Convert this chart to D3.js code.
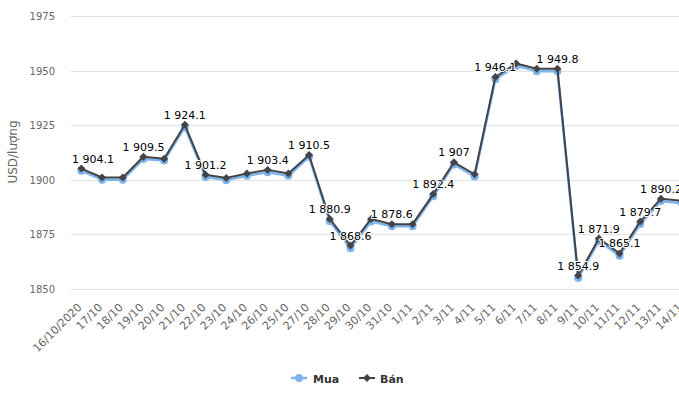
<!DOCTYPE html>
<html>
<head>
<meta charset="utf-8">
<script src="https://cdn.jsdelivr.net/npm/d3@7/dist/d3.min.js"></script>
<style>
  html, body { margin: 0; padding: 0; background: #fff; overflow: hidden; }
  svg { display: block; font-family: "DejaVu Sans", Verdana, sans-serif; }
</style>
</head>
<body>
<div id="chart"></div>
<script>
const categories = ["16/10/2020","17/10","18/10","19/10","20/10","21/10","22/10","23/10","24/10","26/10","25/10","27/10","28/10","29/10","30/10","31/10","1/11","2/11","3/11","4/11","5/11","6/11","7/11","8/11","9/11","10/11","11/11","12/11","13/11","14/11"];
const muaValues = [1904.1,1900.0,1900.0,1909.5,1908.8,1924.1,1901.2,1899.8,1901.8,1903.4,1901.8,1910.5,1880.9,1868.6,1880.8,1878.6,1878.6,1892.4,1907.0,1901.5,1946.1,1952.2,1949.8,1949.8,1854.9,1871.9,1865.1,1879.7,1890.2,1889.2];
const banValues = [1905.1,1901.0,1901.0,1910.5,1909.6,1925.2,1902.3,1900.8,1902.8,1904.5,1902.8,1911.3,1882.0,1869.8,1882.0,1879.6,1879.6,1893.4,1908.0,1902.5,1947.1,1953.3,1950.9,1950.9,1856.0,1873.0,1866.2,1880.8,1891.3,1890.3];
const labelIndices = [0,3,5,6,9,11,12,13,15,17,18,20,23,24,25,26,27,28];
const yTicks = [1850,1875,1900,1925,1950,1975];
const seriesNames = ["Mua","Bán"];
const yTitle = "USD/lượng";

const W = 679, H = 393;
const plotLeft = 71, step = 20.7;
const plotRight = plotLeft + step * categories.length;
const svg = d3.select("#chart").append("svg").attr("width", W).attr("height", H);

const x = d3.scaleBand().domain(categories).range([plotLeft, plotRight]);
const y = d3.scaleLinear().domain([1850, 1975]).range([288.7, 16.2]);
const cx = d => x(d) + x.bandwidth() / 2;

// grid
svg.append("g").selectAll("line").data(yTicks).join("line")
  .attr("x1", plotLeft).attr("x2", plotRight)
  .attr("y1", d => Math.round(y(d)) + 0.5).attr("y2", d => Math.round(y(d)) + 0.5)
  .attr("stroke", "#e3e3e3").attr("stroke-width", 1);

// y axis labels
const yAxis = d3.axisLeft(y).tickValues(yTicks).tickFormat(d3.format("d")).tickSize(0).tickPadding(0);
const gy = svg.append("g").attr("transform", `translate(55,0)`).call(yAxis);
gy.select(".domain").remove();
gy.selectAll("text").attr("fill", "#666").attr("font-size", "10px").attr("font-family", "DejaVu Sans").attr("dy", "0.35em");

// y title
svg.append("text").attr("transform", "translate(17,152) rotate(-90)")
  .attr("text-anchor", "middle").attr("fill", "#666").attr("font-size", "12px").text(yTitle);

// x axis labels
const xAxis = d3.axisBottom(x).tickSize(0).tickPadding(0);
const gx = svg.append("g").attr("transform", `translate(0,289)`).call(xAxis);
gx.select(".domain").remove();
gx.selectAll("text")
  .attr("fill", "#666").attr("font-size", "11px").attr("font-family", "DejaVu Sans")
  .attr("text-anchor", "end").attr("dy", null).attr("y", 0)
  .attr("transform", "translate(1,19) rotate(-45)");

// lines
const lineGen = d3.line().x((d, i) => cx(categories[i])).y(d => y(d));
svg.append("path").datum(muaValues).attr("d", lineGen)
  .attr("fill", "none").attr("stroke", "#7cb5ec").attr("stroke-width", 2.5).attr("stroke-linejoin", "round");
svg.append("g").selectAll("circle").data(muaValues).join("circle")
  .attr("cx", (d, i) => cx(categories[i])).attr("cy", d => y(d)).attr("r", 4)
  .attr("fill", "#7cb5ec");

svg.append("path").datum(banValues).attr("d", lineGen)
  .attr("fill", "none").attr("stroke", "#434348").attr("stroke-width", 2).attr("stroke-linejoin", "round");
const diamond = (px, py, r) => `M${px},${py - r}L${px + r},${py}L${px},${py + r}L${px - r},${py}Z`;
svg.append("g").selectAll("path").data(banValues).join("path")
  .attr("d", (d, i) => diamond(cx(categories[i]), y(d), 4))
  .attr("fill", "#434348");

// data labels
const fmt = v => d3.format(",")(v).replace(/,/g, " ");
const lbl = svg.append("g").selectAll("text").data(labelIndices).join("text")
  .attr("x", i => cx(categories[i])).attr("y", i => y(banValues[i]) - 6)
  .attr("text-anchor", "middle").attr("font-size", "11px").attr("fill", "#000")
  .attr("stroke", "#fff").attr("stroke-width", 2).attr("paint-order", "stroke").attr("stroke-linejoin", "round")
  .text(i => fmt(muaValues[i]));
lbl.each(function(i) {
  const w = this.getComputedTextLength();
  const c = cx(categories[i]);
  if (c - w / 2 < plotLeft + 1) d3.select(this).attr("x", plotLeft + 1 + w / 2);
});

// legend
const leg = svg.append("g").attr("font-size", "11px").attr("font-weight", "bold").attr("fill", "#333");
leg.append("line").attr("x1", 291).attr("x2", 307).attr("y1", 378).attr("y2", 378).attr("stroke", "#7cb5ec").attr("stroke-width", 2.5);
leg.append("circle").attr("cx", 299).attr("cy", 378).attr("r", 4).attr("fill", "#7cb5ec");
leg.append("text").attr("x", 313).attr("y", 382.5).text(seriesNames[0]);
leg.append("line").attr("x1", 359).attr("x2", 375).attr("y1", 378).attr("y2", 378).attr("stroke", "#434348").attr("stroke-width", 2);
leg.append("path").attr("d", diamond(367, 378, 4)).attr("fill", "#434348");
leg.append("text").attr("x", 380).attr("y", 382.5).text(seriesNames[1]);
</script>
</body>
</html>
